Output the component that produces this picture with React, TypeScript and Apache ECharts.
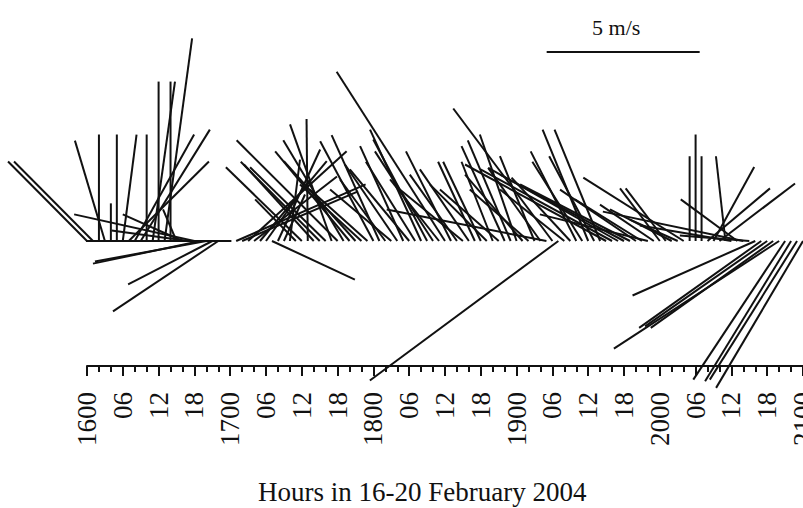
import React, { useEffect, useRef } from "react";
import * as echarts from "echarts";

// Hourly observation times (hours after 16 Feb 2004 00:00)
const HOURS = [
  0, 1, 2, 3, 4, 5, 6, 7, 8, 9, 10, 11, 12, 13, 14, 15, 16, 17, 18, 19, 20, 21, 22, 23,
  24, 25, 26, 27, 28, 29, 30, 31, 32, 33, 34, 35, 36, 37, 38, 39, 40, 41, 42, 43, 44, 45, 46, 47,
  48, 49, 50, 51, 52, 53, 54, 55, 56, 57, 58, 59, 60, 61, 62, 63, 64, 65, 66, 67, 68, 69, 70, 71,
  72, 73, 74, 75, 76, 77, 78, 79, 80, 81, 82, 83, 84, 85, 86, 87, 88, 89, 90, 91, 92, 93, 94, 95,
  96, 97, 98, 99, 100, 101, 102, 103, 104, 105, 106, 107, 108, 109, 110, 111, 112, 113, 114, 115,
  116, 117, 118, 119, 120,
];

// Eastward wind component (m/s)
const U: (number | null)[] = [
  -2.58, -2.58, 0, -0.98, 0, 0, 0.45, 2.62, 1.94, 2.26, 0, 0.73, 0, 0.9, 0, -0.44, -1.95, -2.51, -3.93, -3.51, -3.64, -2.75, -3.44, -0.3,
  null, 4.23, 3.79, 3.22, 2.71, 2.18, 1.44, 2.71, 1.38, 0.69, 0.33, -1.33, -2.48, -0.04, -2.28, -2.58, -2.47, -1.36, -3.3, -1.97, -2.43, -2.34, -2.01, -1.88,
  -1.74, -1.56, -1.48, -2.0, -1.71, -1.41, -1.94, -1.61, -1.67, -1.76, -1.9, -1.6, -3.54, -1.47, -1.54, -2.06, -1.6, -1.2, -1.23, -1.86, -1.02, -1.92, -1.41, -1.4,
  -1.2, -1.88, -1.92, -1.13, -1.71, -5.22, -3.24, -6.16, -2.1, -1.92, -1.49, -1.63, -1.49, -1.47, -1.49, -4.61, -4.3, -4.24, -4.05, -3.59, -2.48, -2.19, -3.53, -1.76,
  -1.3, -1.31, -2.02, -1.56, -3.28, 0, 0, 0, 2.04, 1.33, 2.47, -0.31, -2.99, -1.85, -4.59, -2.27, -4.01, -3.99, -3.99, -4.0,
  -5.4, -3.0, -2.81, -2.85, -2.84,
];

// Northward wind component (m/s)
const V: (number | null)[] = [
  2.6, 2.6, 3.48, 3.28, 1.23, 3.48, 3.48, 2.6, 3.48, 3.64, 3.48, 5.21, 5.21, 6.62, 5.21, 1.03, 0.87, 0.34, 0.87, -0.74, -0.67, -1.42, -2.3, 0,
  null, 1.85, 1.62, 2.93, 2.11, 2.61, 2.01, -1.26, 2.99, 1.52, 2.66, 1.36, 2.41, 3.99, 2.5, 2.59, 2.41, 3.81, 3.29, 3.29, 2.93, 2.61, 1.85, 1.68,
  3.26, 3.46, 2.01, 1.68, 2.5, 3.1, 2.34, 2.59, 3.64, 3.32, 2.93, 2.01, 5.53, 2.93, 2.17, 1.68, 2.34, 2.59, 2.59, 1.85, 2.59, 1.68, 3.1, 3.29,
  3.48, 2.17, 1.68, 2.77, 2.39, 1.03, 4.33, -4.56, 1.68, 2.07, 2.93, 2.59, 3.64, 2.77, 3.64, 2.5, 2.34, 2.39, 2.17, 1.85, 1.68, 1.36, 0.87, 1.19,
  1.72, 1.72, 1.03, 0.7, 2.07, 2.77, 3.48, 2.77, 1.72, 2.42, 1.88, 2.77, 0.51, 1.36, 0.96, 0.18, -1.78, -2.84, -2.79, -2.84,
  -3.52, -4.53, -4.58, -4.53, -4.8,
];

// Axis tick labels, one per 6 hours
const TICK_LABELS = [
  "1600", "06", "12", "18",
  "1700", "06", "12", "18",
  "1800", "06", "12", "18",
  "1900", "06", "12", "18",
  "2000", "06", "12", "18",
  "2100",
];

// Stretches (hours) where the zero line is drawn
const BASELINE_SPANS = [[-0.8, 24.2]];

const SCALE_SPEED = 5;
const SCALE_LABEL = "5 m/s";
const AXIS_TITLE = "Hours in 16-20 February 2004";

const FONT = "'Liberation Serif', 'Times New Roman', serif";
const INK = "#111111";

export default function App() {
  const ref = useRef<HTMLDivElement>(null);

  useEffect(() => {
    if (!ref.current) return;
    const chart = echarts.init(ref.current, undefined, { renderer: "svg" });

    const stickData: number[][] = [];
    HOURS.forEach((h, i) => {
      const u = U[i];
      const v = V[i];
      if (u === null || v === null) return;
      stickData.push([h, u, v]);
    });

    const baselineSeries = BASELINE_SPANS.map((span) => ({
      type: "line",
      data: [
        [span[0], 0],
        [span[1], 0],
      ],
      symbol: "none",
      silent: true,
      lineStyle: { color: INK, width: 2 },
    }));

    chart.setOption({
      animation: false,
      backgroundColor: "#ffffff",
      grid: {
        left: 87,
        right: 0,
        top: 0,
        bottom: 142,
        containLabel: false,
        outerBoundsMode: "none",
      },
      xAxis: {
        type: "value",
        min: 0,
        max: 120,
        interval: 6,
        axisLine: { show: true, onZero: false, lineStyle: { color: INK, width: 2 } },
        axisTick: { show: true, length: 10, lineStyle: { color: INK, width: 2 } },
        minorTick: { show: true, splitNumber: 3, length: 6, lineStyle: { color: INK, width: 2 } },
        splitLine: { show: false },
        minorSplitLine: { show: false },
        axisLabel: {
          rotate: 90,
          margin: 26,
          fontSize: 27,
          fontFamily: FONT,
          color: INK,
          showMinLabel: true,
          showMaxLabel: true,
          hideOverlap: false,
          formatter: (val: number) => {
            const idx = Math.round(val / 6);
            return TICK_LABELS[idx] ?? "";
          },
        },
      },
      yAxis: {
        type: "value",
        min: -125 / 30.6,
        max: 241 / 30.6,
        show: false,
      },
      series: [
        ...baselineSeries,
        {
          type: "custom",
          clip: false,
          silent: true,
          data: stickData,
          renderItem: (params: any, api: any) => {
            const h = api.value(0);
            const u = api.value(1);
            const v = api.value(2);
            const o = api.coord([h, 0]);
            const k = api.size([1, 1])[1];
            return {
              type: "line",
              shape: { x1: o[0], y1: o[1], x2: o[0] + u * k, y2: o[1] - v * k },
              style: { stroke: INK, lineWidth: 2 },
            };
          },
        },
        {
          type: "custom",
          clip: false,
          silent: true,
          data: [[77.04, 6.18, SCALE_SPEED]],
          renderItem: (params: any, api: any) => {
            const o = api.coord([api.value(0), api.value(1)]);
            const k = api.size([1, 1])[1];
            const len = api.value(2) * k;
            return {
              type: "group",
              children: [
                {
                  type: "line",
                  shape: { x1: o[0], y1: o[1], x2: o[0] + len, y2: o[1] },
                  style: { stroke: INK, lineWidth: 2 },
                },
                {
                  type: "text",
                  x: o[0] + len / 2 - 7,
                  y: o[1] - 13,
                  style: {
                    text: SCALE_LABEL,
                    fontSize: 22,
                    fontFamily: FONT,
                    fill: INK,
                    align: "center",
                    verticalAlign: "bottom",
                  },
                },
              ],
            };
          },
        },
      ],
      graphic: [
        {
          type: "text",
          left: 258,
          top: 478,
          style: {
            text: AXIS_TITLE,
            fontSize: 27,
            fontFamily: FONT,
            fill: INK,
          },
        },
      ],
    });

    return () => chart.dispose();
  }, []);

  return (
    <div
      ref={ref}
      style={{ position: "absolute", left: 0, top: 0, width: 803, height: 508 }}
    />
  );
}
